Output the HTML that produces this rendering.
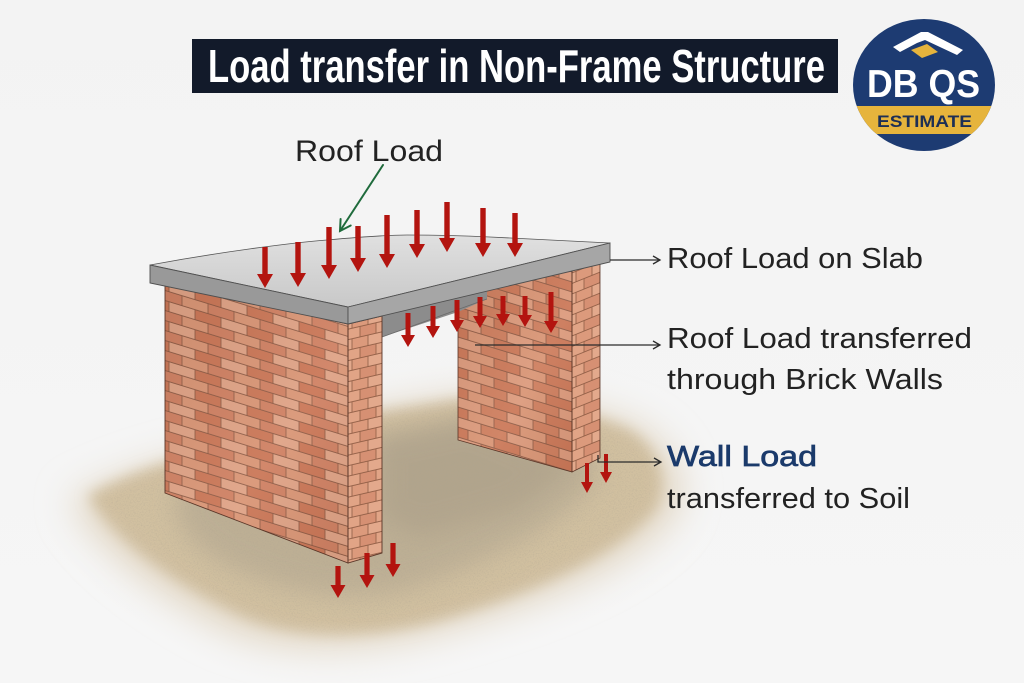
<!DOCTYPE html>
<html><head><meta charset="utf-8"><style>
html,body{margin:0;padding:0;background:#f4f4f4;}
svg{display:block;}
</style></head><body>
<svg width="1024" height="683" viewBox="0 0 1024 683" xmlns="http://www.w3.org/2000/svg">
<defs>
  <linearGradient id="bgg" x1="0" y1="0" x2="0" y2="1">
    <stop offset="0" stop-color="#f3f3f3"/><stop offset="1" stop-color="#f6f6f6"/>
  </linearGradient>
  <filter id="soft" x="-20%" y="-20%" width="140%" height="140%"><feGaussianBlur stdDeviation="12"/></filter>
  <filter id="soft2" x="-20%" y="-20%" width="140%" height="140%"><feGaussianBlur stdDeviation="7"/></filter>
  <filter id="soft3" x="-20%" y="-20%" width="140%" height="140%"><feGaussianBlur stdDeviation="18"/></filter>
  <filter id="noise" x="0" y="0" width="100%" height="100%">
    <feTurbulence type="fractalNoise" baseFrequency="0.75" numOctaves="2" seed="7"/>
    <feColorMatrix type="matrix" values="0 0 0 0 0.42  0 0 0 0 0.37  0 0 0 0 0.29  1.6 0 0 0 -0.72"/>
  </filter>
  <mask id="gmask">
    <path d="M95,496 C125,480 150,470 175,463 L382,414 L460,402 L560,406 L622,430 C652,446 664,478 650,506 C616,550 528,590 440,616 C365,636 290,636 238,610 C182,582 122,542 95,496 Z" fill="#fff" filter="url(#soft2)" opacity="0.9"/>
  </mask>
  <pattern id="bf" width="52" height="20" patternUnits="userSpaceOnUse" patternTransform="skewY(17)">
    <rect width="52" height="20" fill="#8a5842"/>
    <rect x="0.4" y="0.5" width="25.2" height="9.1" fill="#cf8062"/>
    <rect x="26.4" y="0.5" width="25.2" height="9.1" fill="#d99575"/>
    <rect x="-12.6" y="10.5" width="25.2" height="9.1" fill="#ca7656"/>
    <rect x="13.4" y="10.5" width="25.2" height="9.1" fill="#dfa285"/>
    <rect x="39.4" y="10.5" width="25.2" height="9.1" fill="#ca7656"/>
  </pattern>
  <pattern id="bf2" width="52" height="20" patternUnits="userSpaceOnUse" patternTransform="translate(0,7) skewY(17)">
    <rect width="52" height="20" fill="#8a5842"/>
    <rect x="0.4" y="0.5" width="25.2" height="9.1" fill="#d99575"/>
    <rect x="26.4" y="0.5" width="25.2" height="9.1" fill="#cb7858"/>
    <rect x="-12.6" y="10.5" width="25.2" height="9.1" fill="#dc9a7c"/>
    <rect x="13.4" y="10.5" width="25.2" height="9.1" fill="#ce7e5e"/>
    <rect x="39.4" y="10.5" width="25.2" height="9.1" fill="#dc9a7c"/>
  </pattern>
  <pattern id="be" width="32" height="21" patternUnits="userSpaceOnUse" patternTransform="skewY(-13)">
    <rect width="32" height="21" fill="#8f5d45"/>
    <rect x="0.4" y="0.5" width="15.2" height="9.6" fill="#dc9a7c"/>
    <rect x="16.4" y="0.5" width="15.2" height="9.6" fill="#e3a98c"/>
    <rect x="-7.6" y="11" width="15.2" height="9.6" fill="#e1a486"/>
    <rect x="8.4" y="11" width="15.2" height="9.6" fill="#d69073"/>
    <rect x="24.4" y="11" width="15.2" height="9.6" fill="#e1a486"/>
  </pattern>
  <pattern id="be2" width="32" height="21" patternUnits="userSpaceOnUse" patternTransform="skewY(-22)">
    <rect width="32" height="21" fill="#8f5d45"/>
    <rect x="0.4" y="0.5" width="15.2" height="9.6" fill="#dc9a7c"/>
    <rect x="16.4" y="0.5" width="15.2" height="9.6" fill="#e3a98c"/>
    <rect x="-7.6" y="11" width="15.2" height="9.6" fill="#e1a486"/>
    <rect x="8.4" y="11" width="15.2" height="9.6" fill="#d69073"/>
    <rect x="24.4" y="11" width="15.2" height="9.6" fill="#e1a486"/>
  </pattern>
  <linearGradient id="slabTop" x1="0" y1="1" x2="0" y2="0">
    <stop offset="0" stop-color="#c8c8c8"/><stop offset="1" stop-color="#e0e0e0"/>
  </linearGradient>
  <linearGradient id="wallShade" x1="0" y1="0" x2="1" y2="1">
    <stop offset="0" stop-color="#000" stop-opacity="0.06"/>
    <stop offset="0.6" stop-color="#fff" stop-opacity="0.06"/>
    <stop offset="1" stop-color="#000" stop-opacity="0.05"/>
  </linearGradient>
</defs>

<rect width="1024" height="683" fill="url(#bgg)"/>

<!-- Ground -->
<path d="M70,500 C110,478 150,466 180,458 L380,408 L460,396 L560,400 L630,422 C670,440 695,480 675,515 C640,565 540,605 440,632 C360,655 270,655 215,625 C155,592 100,552 70,500 Z" fill="#e2d7c4" filter="url(#soft3)"/>
<path d="M88,496 C120,478 150,468 175,461 L382,412 L460,400 L560,404 L625,428 C656,444 670,478 656,508 C620,554 530,594 440,620 C365,640 287,640 234,612 C178,584 118,544 88,496 Z" fill="#d1c0a0" filter="url(#soft2)"/>
<path d="M175,492 L380,432 L470,416 L588,442 L598,480 C560,528 480,566 400,592 C330,606 262,586 214,558 C186,540 170,515 175,492 Z" fill="#ada28c" opacity="0.55" filter="url(#soft)"/>
<path d="M380,440 L470,420 L575,465 L520,508 L420,536 L380,518 Z" fill="#9d927f" opacity="0.35" filter="url(#soft)"/>
<rect x="60" y="380" width="640" height="280" filter="url(#noise)" mask="url(#gmask)" opacity="0.6"/>

<!-- Back wall -->
<polygon points="458,290 572,262 572,472 458,440" fill="url(#bf2)"/>
<polygon points="458,290 572,262 572,472 458,440" fill="url(#wallShade)"/>
<polygon points="572,262 600,252 600,458 572,472" fill="url(#be2)"/>
<polygon points="458,290 572,262 572,472 458,440" fill="none" stroke="#5a3628" stroke-width="0.8"/>
<polygon points="572,262 600,252 600,458 572,472" fill="none" stroke="#5a3628" stroke-width="0.8"/>

<!-- Slab underside -->
<polygon points="382,316 487,291 487,299 458,312 382,337" fill="#8c8c8c"/>
<line x1="382" y1="337" x2="487" y2="299" stroke="#6a6a6a" stroke-width="0.8"/>

<!-- Left wall -->
<polygon points="165,283 348,324 348,563 165,493" fill="url(#bf)"/>
<polygon points="165,283 348,324 348,563 165,493" fill="url(#wallShade)"/>
<polygon points="348,324 382,316 382,553 348,563" fill="url(#be)"/>
<polygon points="165,283 348,324 348,563 165,493" fill="none" stroke="#5a3628" stroke-width="0.9"/>
<polygon points="348,324 382,316 382,553 348,563" fill="none" stroke="#5a3628" stroke-width="0.9"/>

<!-- Slab -->
<path d="M150,265 C220,252 290,243 327,240 C360,237 385,235 407,235 C440,235 470,236 490,237 L610,243 L348,307 Z" fill="url(#slabTop)" stroke="#555" stroke-width="0.8"/>
<polygon points="150,265 348,307 348,324 150,283" fill="#999999" stroke="#4f4f4f" stroke-width="0.9"/>
<polygon points="348,307 610,243 610,262 348,324" fill="#a6a6a6" stroke="#4f4f4f" stroke-width="0.9"/>

<!-- Red arrows -->
<g fill="#b3140f">
  <path d="M262.3,247V274H257L265,288L273,274H267.7V247Z"/>
  <path d="M295.3,242V273H290L298,287L306,273H300.7V242Z"/>
  <path d="M326.3,227V265H321L329,279L337,265H331.7V227Z"/>
  <path d="M355.3,226V258H350L358,272L366,258H360.7V226Z"/>
  <path d="M384.3,215V254H379L387,268L395,254H389.7V215Z"/>
  <path d="M414.3,210V244H409L417,258L425,244H419.7V210Z"/>
  <path d="M444.3,202V238H439L447,252L455,238H449.7V202Z"/>
  <path d="M480.3,208V243H475L483,257L491,243H485.7V208Z"/>
  <path d="M512.3,213V243H507L515,257L523,243H517.7V213Z"/>

  <path d="M405.5,313V335H401L408,347L415,335H410.5V313Z"/>
  <path d="M430.5,306V326H426L433,338L440,326H435.5V306Z"/>
  <path d="M454.5,300V320H450L457,332L464,320H459.5V300Z"/>
  <path d="M477.5,297V316H473L480,328L487,316H482.5V297Z"/>
  <path d="M500.5,296V314H496L503,326L510,314H505.5V296Z"/>
  <path d="M522.5,296V315H518L525,327L532,315H527.5V296Z"/>
  <path d="M548.5,292V321H544L551,333L558,321H553.5V292Z"/>

  <path d="M335.4,566V585H330.5L338,598L345.5,585H340.6V566Z"/>
  <path d="M364.4,553V575H359.5L367,588L374.5,575H369.6V553Z"/>
  <path d="M390.4,543V564H385.5L393,577L400.5,564H395.6V543Z"/>

  <path d="M585,463V482H581L587,493L593,482H589V463Z"/>
  <path d="M604,454V472H600L606,483L612,472H608V454Z"/>
</g>

<!-- Green roof-load pointer -->
<g stroke="#1f6b3c" stroke-width="2" fill="none" stroke-linecap="round">
  <line x1="383" y1="165" x2="340" y2="231"/>
  <polyline points="350.7,225.5 340,231 340.6,219"/>
</g>
<text x="295" y="161" font-family="Liberation Sans, sans-serif" font-size="30" fill="#222" textLength="148" lengthAdjust="spacingAndGlyphs">Roof Load</text>

<!-- Connectors -->
<g stroke="#2b2b2b" stroke-width="1.3" fill="none">
  <line x1="610" y1="260" x2="660" y2="260"/>
  <polyline points="653,256 660,260 653,264"/>
  <line x1="475" y1="345" x2="660" y2="345"/>
  <polyline points="653,341 660,345 653,349"/>
  <polyline points="598,455 598,462 661,462"/>
  <polyline points="654,458 661,462 654,466"/>
</g>

<g font-family="Liberation Sans, sans-serif" font-size="29" fill="#222">
  <text x="667" y="268" textLength="256" lengthAdjust="spacingAndGlyphs">Roof Load on Slab</text>
  <text x="667" y="348" textLength="305" lengthAdjust="spacingAndGlyphs">Roof Load transferred</text>
  <text x="667" y="389" textLength="276" lengthAdjust="spacingAndGlyphs">through Brick Walls</text>
  <text x="667" y="466" textLength="150" lengthAdjust="spacingAndGlyphs" fill="#1b3a6b" stroke="#1b3a6b" stroke-width="0.7">Wall Load</text>
  <text x="667" y="508" textLength="243" lengthAdjust="spacingAndGlyphs">transferred to Soil</text>
</g>

<!-- Title -->
<rect x="192" y="39" width="646" height="54" fill="#121a2a"/>
<text x="208" y="82" font-family="Liberation Sans Narrow, Liberation Sans, sans-serif" font-weight="bold" font-size="46" fill="#ffffff" textLength="617" lengthAdjust="spacingAndGlyphs">Load transfer in Non-Frame Structure</text>

<!-- Logo -->
<ellipse cx="924" cy="85" rx="71" ry="66" fill="#1d3b72"/>
<clipPath id="lc"><ellipse cx="924" cy="85" rx="71" ry="66"/></clipPath>
<rect x="850" y="106" width="150" height="28" fill="#e6b43c" clip-path="url(#lc)"/>
<polygon points="911,50 927,44 938,52 922,58" fill="#e6b43c"/>
<polygon points="893,47 921,32 928,32 963,50 957,55 925,40 917,43 900,52" fill="#ffffff"/>
<text x="867" y="97" font-family="Liberation Sans, sans-serif" font-weight="bold" font-size="39" fill="#ffffff" textLength="113" lengthAdjust="spacingAndGlyphs">DB QS</text>
<text x="877" y="127" font-family="Liberation Sans, sans-serif" font-weight="bold" font-size="16.5" fill="#1d2f55" textLength="95" lengthAdjust="spacingAndGlyphs">ESTIMATE</text>
</svg>
</body></html>
